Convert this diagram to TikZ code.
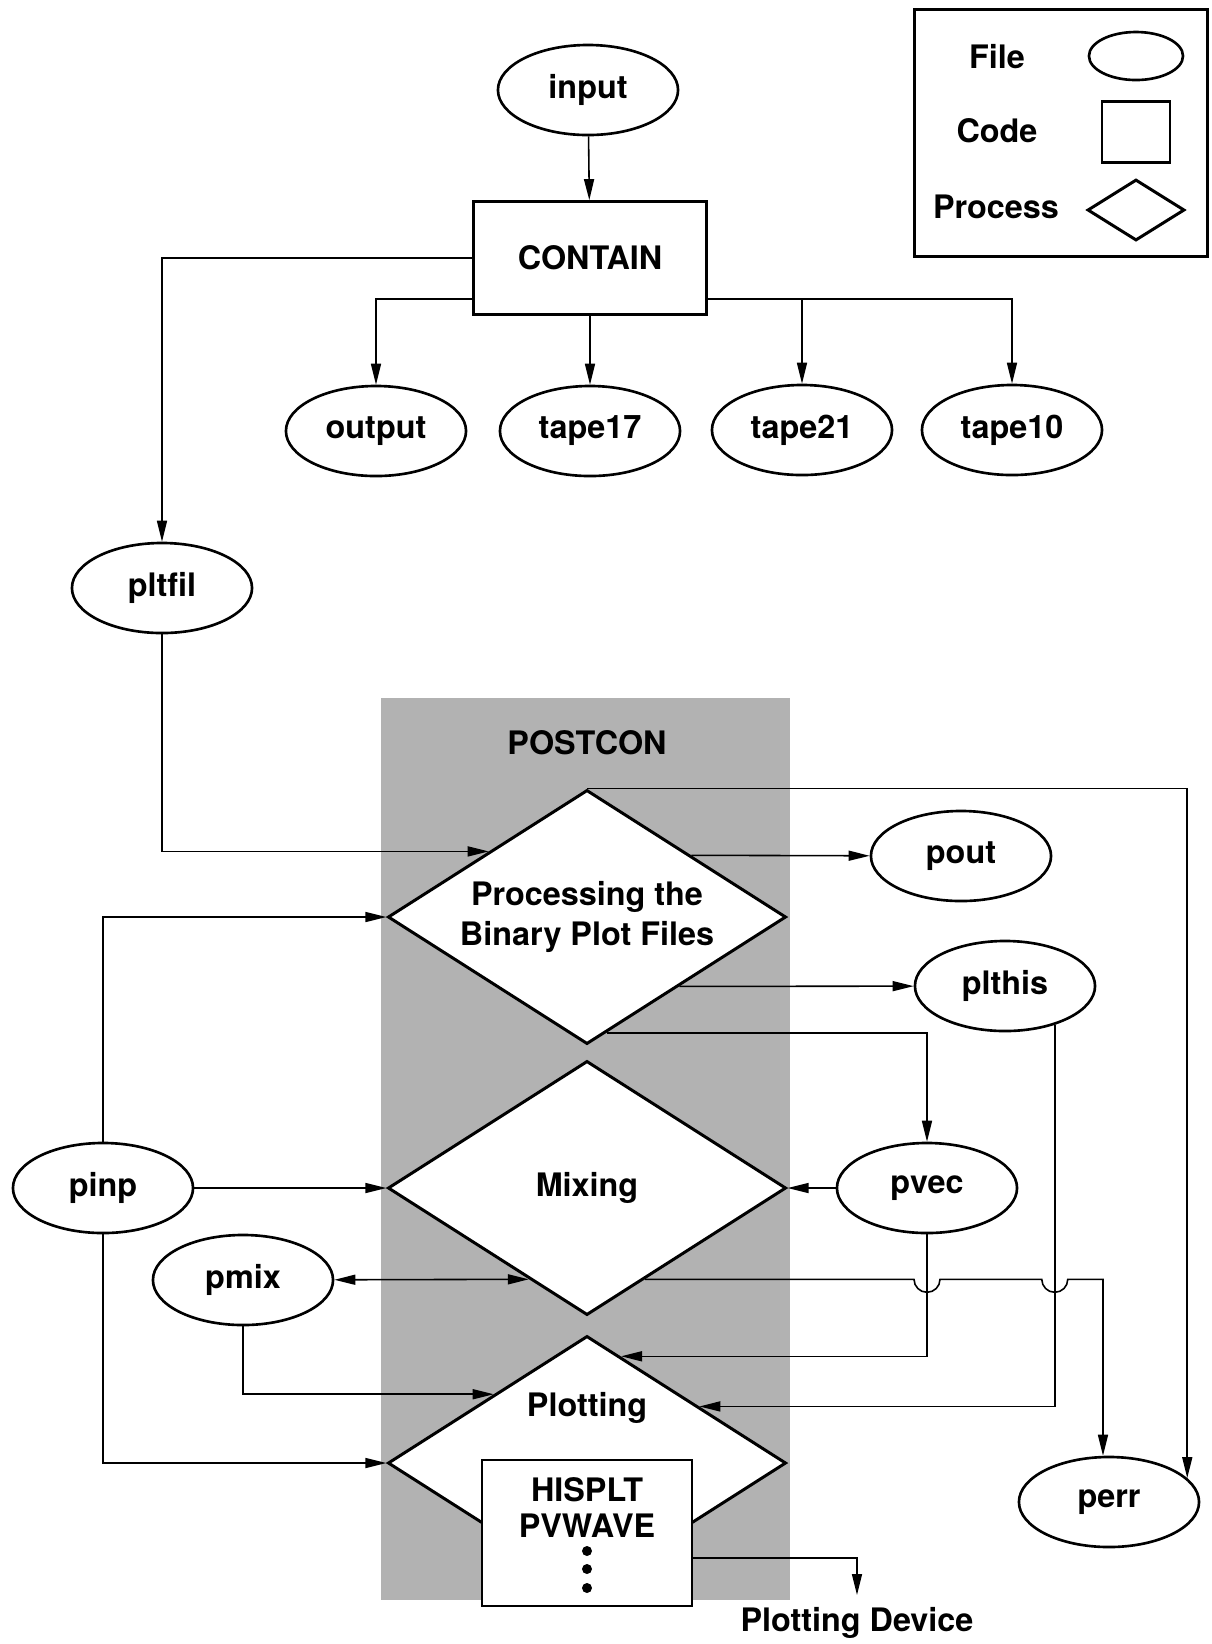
\documentclass[tikz,border=0pt]{standalone}
\usepackage{fontspec}
\setmainfont{TeX Gyre Heros}
\usetikzlibrary{calc,shapes.geometric,arrows.meta}
\definecolor{postgray}{gray}{0.7}

\begin{document}
\begin{tikzpicture}[x=0.01cm,y=-0.01cm,
		>={Triangle[length=2.1mm,width=1mm]},
		every node/.style={font=\bfseries\fontsize{9.2}{11.4}\selectfont},
		file/.style={draw,ellipse,line width=0.75pt,inner sep=1pt,minimum width=1.8cm,minimum height=0.9cm},
		codebox/.style={draw,rectangle,line width=0.75pt,fill=white},
		process/.style={draw,diamond,line width=0.85pt,fill=white,inner sep=0pt,minimum width=3.98cm,minimum height=2.54cm},
		flow/.style={line width=0.45pt}]
		\useasboundingbox (0,0) rectangle (1212,1644);
		
		% key
		\node[draw,line width=0.9pt,minimum width=2.93cm,minimum height=2.47cm](key)at(1061,133) {};
		\node(keyfile)at(997,57) {File};
		\node[file,minimum width=0.94cm,minimum height=0.48cm](keyfilesym)at(1136,56) {};
		\node(keycode)at(997,131) {Code};
		\node[codebox,minimum width=0.68cm,minimum height=0.61cm](keycodesym)at(1136,132) {};
		\node(keyproc)at(996,207) {Process};
		\node[process,minimum width=0.97cm,minimum height=0.61cm](keyprocsym)at(1136,210) {};
		
		% CONTAIN
		\node[file](input)at(588,90) {input};
		\node[codebox,minimum width=2.33cm,minimum height=1.13cm](contain)at(590,258) {CONTAIN};
		\node[file](output)at(376,431) {output};
		\node[file](tape17)at(590,431) {tape17};
		\node[file](tape21)at(802,430) {tape21};
		\node[file](tape10)at(1012,430) {tape10};
		\node[file](pltfil)at(162,588) {pltfil};
		
		\draw[flow,->](input) -- (contain);
		\draw[flow,->](contain.west) -| (pltfil);
		\draw[flow,->]([yshift=0.17cm]contain.south west) -| (output);
		\draw[flow,->](contain) -- (tape17);
		\draw[flow,->]([yshift=0.17cm]contain.south east) -| (tape21);
		\draw[flow,->]([yshift=0.17cm]contain.south east) -| (tape10);
		
		% POSTCON
		\fill[postgray] (381,698) rectangle (790,1600);
		\node(postcon)at(587,743) {POSTCON};
		\node[process](proc)at(587,917) {};
		\node[align=center](proctext)at(proc) {Processing the\\Binary Plot Files};
		\node[process](mix)at(587,1188) {};
		\node(mixtext)at(mix) {Mixing};
		\node[process](plot)at(587,1463) {};
		\node(plottext)at(587,1408) {Plotting};
		\node[codebox,minimum width=2.1cm,minimum height=1.46cm](plotcodes)at(587,1533) {};
		\node(hisplt)at(587,1490) {HISPLT};
		\node(pvwave)at(587,1526) {PVWAVE};
		\foreach \y in {1551,1569,1588}
			\fill (587,\y) circle[radius=0.05cm];
		\node(device)at(857,1623) {Plotting Device};
		
		\node[file](pout)at(961,856) {pout};
		\node[file](plthis)at(1005,986) {plthis};
		\node[file](pvec)at(927,1188) {pvec};
		\node[file](perr)at(1109,1502) {perr};
		\node[file](pinp)at(103,1188) {pinp};
		\node[file](pmix)at(243,1280) {pmix};
		
		\draw[flow,->](pltfil) |- ($(proc.north)!0.49!(proc.west)$);
		\draw[flow,->](pinp) |- (proc.west);
		\draw[flow,->](pinp) -- (mix.west);
		\draw[flow,->](pinp) |- (plot.west);
		\draw[flow,<->](pmix) -- ($(mix.west)!0.71!(mix.south)$);
		\draw[flow,->](pmix) |- ($(plot.north)!0.465!(plot.west)$);
		
		\draw[flow,->]($(proc.north)!0.52!(proc.east)$) -- (pout);
		\draw[flow,->]($(proc.east)!0.54!(proc.south)$) -- (plthis);
		\draw[flow,->]($(proc.east)!0.9!(proc.south)$) -| (pvec);
		\draw[flow,->](proc.north) -| (perr.17);
		\draw[flow,->](pvec) -- (mix.east);
		\draw[flow,->](pvec) |- ($(plot.north)!0.17!(plot.east)$);
		\draw[flow,->](plthis.-38) |- ($(plot.north)!0.56!(plot.east)$);
		
		% mixing to perr, hopping over both drops
		\coordinate(mixout)at($(mix.east)!0.71!(mix.south)$);
		\draw[flow,->](mixout) -- ($(pvec.south |- mixout)+(-13,0)$)
			arc[start angle=180,end angle=360,radius=0.13cm]
			-- ($(plthis.-38 |- mixout)+(-13,0)$)
			arc[start angle=180,end angle=360,radius=0.13cm]
			-| ([xshift=-0.06cm]perr.north);
		
		\draw[flow,->]([yshift=-0.25cm]plotcodes.east) -| (device);
	\end{tikzpicture}
\end{document}
